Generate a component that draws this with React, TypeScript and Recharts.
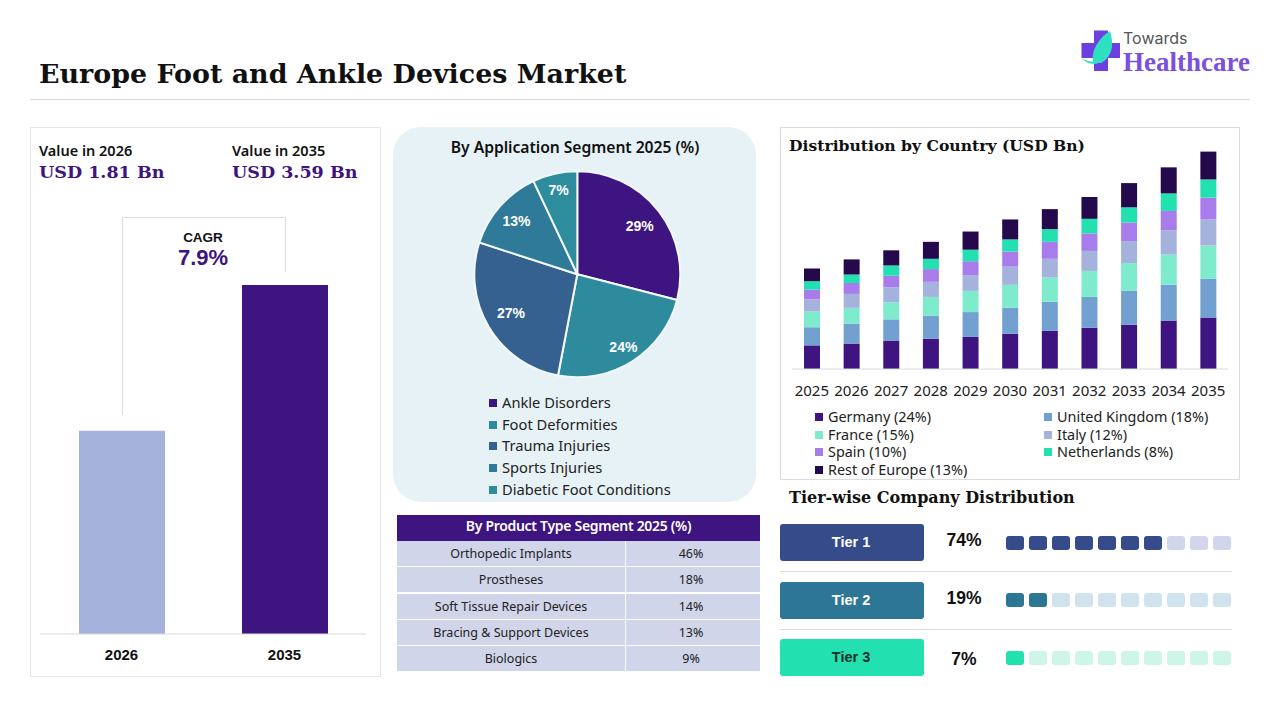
import React from 'react'
import { BarChart, Bar, XAxis, YAxis, Cell, PieChart, Pie } from 'recharts'

const SERIF = '"DejaVu Serif", serif'
const SANS = '"Noto Sans", sans-serif'
const ARIAL = '"Liberation Sans", sans-serif'
const PURPLE = '#3d1480'

// left panel: the 2026 bar is drawn taller than 1.81 would be next to 3.59, so this is the drawn height
const valueYears = ['2026', '2035']
const valueBars = [2.09, 3.59]
const valueColors = ['#a5b3dc', PURPLE]

const applicationNames = ['Ankle Disorders', 'Foot Deformities', 'Trauma Injuries', 'Sports Injuries', 'Diabetic Foot Conditions']
const applicationShares = [29, 24, 27, 13, 7]
const applicationColors = [PURPLE, '#2e8b9e', '#34618f', '#2f7a99', '#2e8d9c']
const applicationLabelRadii = [79, 86, 77, 81, 86]

const productNames = ['Orthopedic Implants', 'Prostheses', 'Soft Tissue Repair Devices', 'Bracing & Support Devices', 'Biologics']
const productShares = ['46%', '18%', '14%', '13%', '9%']

const years = ['2025', '2026', '2027', '2028', '2029', '2030', '2031', '2032', '2033', '2034', '2035']
const germany = [0.39, 0.42, 0.47, 0.5, 0.53, 0.58, 0.63, 0.68, 0.73, 0.8, 0.85]
const unitedKingdom = [0.3, 0.33, 0.35, 0.38, 0.41, 0.43, 0.48, 0.51, 0.56, 0.59, 0.64]
const france = [0.26, 0.26, 0.28, 0.31, 0.35, 0.38, 0.4, 0.43, 0.46, 0.5, 0.55]
const italy = [0.2, 0.23, 0.25, 0.25, 0.26, 0.3, 0.31, 0.33, 0.36, 0.4, 0.43]
const spain = [0.16, 0.18, 0.19, 0.21, 0.23, 0.25, 0.28, 0.29, 0.31, 0.32, 0.36]
const netherlands = [0.14, 0.14, 0.17, 0.17, 0.19, 0.2, 0.21, 0.24, 0.25, 0.29, 0.3]
const restOfEurope = [0.21, 0.25, 0.25, 0.28, 0.3, 0.33, 0.33, 0.36, 0.4, 0.43, 0.46]

const countrySeries = [
  { name: 'Germany (24%)', key: 'germany', values: germany, color: PURPLE },
  { name: 'United Kingdom (18%)', key: 'uk', values: unitedKingdom, color: '#72a0d0' },
  { name: 'France (15%)', key: 'france', values: france, color: '#7eeccc' },
  { name: 'Italy (12%)', key: 'italy', values: italy, color: '#a5b3dc' },
  { name: 'Spain (10%)', key: 'spain', values: spain, color: '#a97ceb' },
  { name: 'Netherlands (8%)', key: 'netherlands', values: netherlands, color: '#22e0b0' },
  { name: 'Rest of Europe (13%)', key: 'rest', values: restOfEurope, color: '#24094d' },
]

const tierNames = ['Tier 1', 'Tier 2', 'Tier 3']
const tierShares = ['74%', '19%', '7%']
const tierFilled = [7, 2, 1]
const tierColors = ['#364b8a', '#2e7696', '#22e0b0']
const tierPale = ['#d1d6ec', '#d1e3ee', '#cdf6e9']
const tierTextColors = ['#ffffff', '#ffffff', '#10302a']

interface TextProps {
  x: number
  y: number
  size: number
  font?: string
  weight?: number
  color?: string
  center?: boolean
  spacing?: number
  children: React.ReactNode
}

const T: React.FC<TextProps> = ({ x, y, size, font = SANS, weight = 400, color = '#111', center, spacing, children }) => (
  <div
    style={{
      position: 'absolute',
      left: x,
      top: y,
      transform: center ? 'translate(-50%, -50%)' : 'translateY(-50%)',
      fontFamily: font,
      fontSize: size,
      fontWeight: weight,
      color,
      letterSpacing: spacing,
      whiteSpace: 'nowrap',
      lineHeight: 1,
    }}
  >
    {children}
  </div>
)

const Box: React.FC<{ x: number; y: number; w: number; h: number; style?: React.CSSProperties }> = ({ x, y, w, h, style }) => (
  <div style={{ position: 'absolute', left: x, top: y, width: w, height: h, boxSizing: 'border-box', ...style }} />
)

const Swatch: React.FC<{ x: number; y: number; color: string }> = ({ x, y, color }) => (
  <Box x={x} y={y - 4} w={8} h={8} style={{ background: color }} />
)

const renderPieLabel = (props: any) => {
  const { cx, cy, midAngle, index, value } = props
  const r = applicationLabelRadii[index]
  const a = (midAngle * Math.PI) / 180
  return (
    <text
      x={cx + r * Math.cos(a)}
      y={cy - r * Math.sin(a)}
      textAnchor="middle"
      dominantBaseline="central"
      style={{ fontFamily: ARIAL, fontSize: 14, fontWeight: 700, fill: '#fff' }}
    >
      {value}%
    </text>
  )
}

const valueData = valueYears.map((year, i) => ({ year, value: valueBars[i] }))
const applicationData = applicationNames.map((name, i) => ({ name, share: applicationShares[i] }))
const countryData = years.map((year, i) => {
  const row: Record<string, string | number> = { year }
  countrySeries.forEach((s) => {
    row[s.key] = s.values[i]
  })
  return row
})

const legendRows = [417, 435, 452, 470]

const TierUnits: React.FC<{ tier: number; y: number }> = ({ tier, y }) => {
  const data = Array.from({ length: 10 }, (_, i) => ({ unit: i, value: 1 }))
  return (
    <div style={{ position: 'absolute', left: 1003, top: y }}>
      <BarChart width={230} height={14} data={data} margin={{ top: 0, right: 0, bottom: 0, left: 0 }} barCategoryGap={0}>
        <XAxis dataKey="unit" hide />
        <YAxis hide domain={[0, 1]} />
        <Bar dataKey="value" barSize={18} radius={3} isAnimationActive={false}>
          {data.map((d) => (
            <Cell key={d.unit} fill={d.unit < tierFilled[tier] ? tierColors[tier] : tierPale[tier]} />
          ))}
        </Bar>
      </BarChart>
    </div>
  )
}

const Logo: React.FC = () => (
  <>
    <svg style={{ position: 'absolute', left: 1078, top: 26 }} width={46} height={50}>
      <rect x={16} y={4.5} width={14} height={40.5} fill="#6d3fe0" />
      <rect x={3.5} y={17} width={38.5} height={15} fill="#6d3fe0" />
      <path d="M15 36 C13 24 21 12 32 5 C36 18 35 30 23 37 Z" fill="#2ee0c0" />
      <path d="M3 32 C10 36 18 37 24 34 C20 40 10 39 3 32 Z" fill="#2ee0c0" />
    </svg>
    <T x={1123} y={38} size={16} font={'"Inter", sans-serif'} color="#555">Towards</T>
    <T x={1123} y={62} size={27} font={'"Liberation Serif", serif'} weight={700} color="#7b4fe0">Healthcare</T>
  </>
)

export default function App() {
  return (
    <div style={{ position: 'absolute', left: 0, top: 0, width: 1280, height: 720, background: '#fff', overflow: 'hidden' }}>
      <T x={39} y={74} size={26.9} font={SERIF} weight={700} color="#111">Europe Foot and Ankle Devices Market</T>
      <Box x={30} y={99} w={1220} h={1} style={{ background: '#d9d9d9' }} />
      <Logo />

      {/* value panel */}
      <Box x={30} y={127} w={351} h={550} style={{ border: '1px solid #e6e6e6' }} />
      <T x={39} y={150} size={14.5} weight={600}>Value in 2026</T>
      <T x={232} y={150} size={14.5} weight={600}>Value in 2035</T>
      <T x={39} y={173} size={17.5} font={SERIF} weight={700} color={PURPLE}>USD 1.81 Bn</T>
      <T x={232} y={173} size={17.5} font={SERIF} weight={700} color={PURPLE}>USD 3.59 Bn</T>
      <Box x={122} y={217} w={164} h={1} style={{ background: '#dddddd' }} />
      <Box x={122} y={217} w={1} h={198} style={{ background: '#dddddd' }} />
      <Box x={285} y={217} w={1} h={55} style={{ background: '#dddddd' }} />
      <T x={203} y={238} size={13.5} font={ARIAL} weight={700} center>CAGR</T>
      <T x={203} y={258} size={22} font={ARIAL} weight={700} color={PURPLE} center>7.9%</T>
      <div style={{ position: 'absolute', left: 40, top: 285 }}>
        <BarChart width={326} height={389} data={valueData} margin={{ top: 0, right: 0, bottom: 0, left: 0 }}>
          <XAxis
            dataKey="year"
            height={40}
            tickLine={false}
            axisLine={{ stroke: '#d9d9d9' }}
            tick={{ fontFamily: ARIAL, fontSize: 15, fontWeight: 700, fill: '#111' }}
            tickMargin={9}
          />
          <YAxis hide domain={[0, 3.59]} />
          <Bar dataKey="value" barSize={86} isAnimationActive={false}>
            {valueData.map((d, i) => (
              <Cell key={d.year} fill={valueColors[i]} />
            ))}
          </Bar>
        </BarChart>
      </div>

      {/* application pie */}
      <Box x={393} y={127} w={363} h={375} style={{ background: '#e7f2f6', borderRadius: 28 }} />
      <T x={575} y={148} size={15.7} weight={600} center spacing={-0.05}>By Application Segment 2025 (%)</T>
      <div style={{ position: 'absolute', left: 393, top: 127 }}>
        <PieChart width={363} height={270} margin={{ top: 0, right: 0, bottom: 0, left: 0 }}>
          <Pie
            data={applicationData}
            dataKey="share"
            nameKey="name"
            cx={184.3}
            cy={147.3}
            innerRadius={0}
            outerRadius={103}
            startAngle={90}
            endAngle={-270}
            stroke="#f2f8fa"
            strokeWidth={2}
            label={renderPieLabel}
            labelLine={false}
            isAnimationActive={false}
          >
            {applicationData.map((d, i) => (
              <Cell key={d.name} fill={applicationColors[i]} />
            ))}
          </Pie>
        </PieChart>
      </div>
      {applicationNames.map((name, i) => (
        <React.Fragment key={name}>
          <Swatch x={489} y={[403, 425, 446, 468, 490][i]} color={applicationColors[i]} />
          <T x={502} y={[402, 424, 445, 467, 489][i]} size={14.7} color="#222">{name}</T>
        </React.Fragment>
      ))}

      {/* product table */}
      <Box x={397} y={515} w={363} h={25.5} style={{ background: PURPLE }} />
      <T x={578.5} y={526} size={14} weight={600} color="#fff" center spacing={-0.3}>By Product Type Segment 2025 (%)</T>
      {productNames.map((name, i) => {
        const top = [541, 567, 593.5, 620, 646][i]
        return (
          <React.Fragment key={name}>
            <Box x={397} y={top} w={228} h={25} style={{ background: '#d0d5ea' }} />
            <Box x={626} y={top} w={134} h={25} style={{ background: '#d0d5ea' }} />
            <T x={511} y={top + 13} size={12.5} color="#222" center>{name}</T>
            <T x={691} y={top + 13} size={12.5} color="#222" center>{productShares[i]}</T>
          </React.Fragment>
        )
      })}

      {/* country stacked bars */}
      <Box x={780} y={127} w={460} h={353} style={{ border: '1px solid #dcdcdc' }} />
      <T x={789} y={145.5} size={15.6} font={SERIF} weight={700}>Distribution by Country (USD Bn)</T>
      <div style={{ position: 'absolute', left: 792, top: 151.3 }}>
        <BarChart width={436} height={253} data={countryData} margin={{ top: 0, right: 0, bottom: 0, left: 0 }}>
          <XAxis
            dataKey="year"
            height={35}
            interval={0}
            tickLine={false}
            axisLine={{ stroke: '#d9d9d9' }}
            tick={{ fontFamily: SANS, fontSize: 15, fill: '#222' }}
            tickMargin={10}
          />
          <YAxis hide domain={[0, 3.6]} />
          {countrySeries.map((s) => (
            <Bar key={s.key} dataKey={s.key} stackId="country" fill={s.color} barSize={16} isAnimationActive={false} />
          ))}
        </BarChart>
      </div>
      {countrySeries.map((s, i) => {
        const y = legendRows[Math.floor(i / 2)]
        const x = i % 2 === 0 ? 815 : 1044
        return (
          <React.Fragment key={s.key}>
            <Swatch x={x} y={y} color={s.color} />
            <T x={x + 13} y={y} size={14.4} color="#222">{s.name}</T>
          </React.Fragment>
        )
      })}

      {/* tiers */}
      <T x={789} y={498} size={16} font={SERIF} weight={700}>Tier-wise Company Distribution</T>
      <Box x={780} y={571} w={452} h={1} style={{ background: '#dddddd' }} />
      <Box x={780} y={629} w={452} h={1} style={{ background: '#dddddd' }} />
      {tierNames.map((name, i) => {
        const top = [524, 582, 639][i]
        return (
          <React.Fragment key={name}>
            <Box x={780} y={top} w={144} h={37} style={{ background: tierColors[i], borderRadius: 3 }} />
            <T x={851} y={top + 18} size={14.5} font={ARIAL} weight={700} color={tierTextColors[i]} center>{name}</T>
            <T x={964} y={[541, 599, 660][i]} size={17.5} font={ARIAL} weight={700} center>{tierShares[i]}</T>
            <TierUnits tier={i} y={[536, 593, 651][i]} />
          </React.Fragment>
        )
      })}
    </div>
  )
}
